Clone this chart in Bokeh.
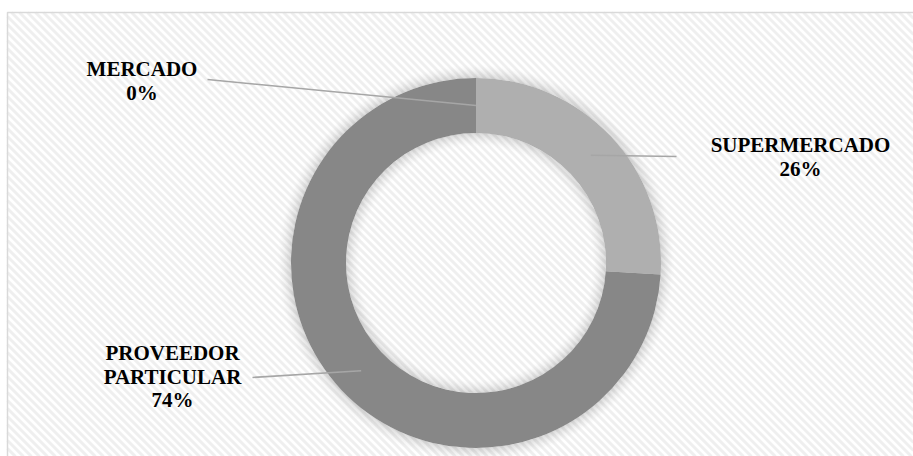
import math
from bokeh.plotting import figure
from bokeh.models import ColumnDataSource, Label
from bokeh.embed import file_html
from bokeh.resources import INLINE

# ---- data ----
categories = ["MERCADO", "SUPERMERCADO", "PROVEEDOR PARTICULAR"]
percent_values = [0, 26, 74]
slice_colors = ["#c8c8c8", "#afafaf", "#878787"]

# ---- layout constants (pixels, y measured from top) ----
W, H = 913, 456
CX, CY_TOP = 475.5, 262.5
R_OUT, R_IN = 185.0, 130.0
label_centers = [(141.5, 76), (800, 152), (172, 360)]   # x center, first baseline
leader_starts = [(207, 79), (676, 156), (252, 377)]
LINE_H = 23.5
DESCENT = 4.5
BOX_L, BOX_T = 7, 12
STRIPE_STEP = 8

def fy(y_top):
    return H - y_top

CY = fy(CY_TOP)

p = figure(width=W, height=H, x_range=(0, W), y_range=(0, H),
           x_axis_type=None, y_axis_type=None, toolbar_location=None,
           output_backend="svg", min_border=0)
p.outline_line_color = None

# chart-area background: white with light diagonal stripes and a light border
top = fy(BOX_T)
x0s, y0s, x1s, y1s = [], [], [], []
c = BOX_L
while c < W + top:
    xa, ya = c - top, top
    if xa < BOX_L:
        xa, ya = BOX_L, c - BOX_L
    xb, yb = c, 0
    if xb > W:
        xb, yb = W, c - W
    if ya > yb:
        x0s.append(xa); y0s.append(ya); x1s.append(xb); y1s.append(yb)
    c += STRIPE_STEP
p.segment(x0=x0s, y0=y0s, x1=x1s, y1=y1s, line_color="#efefef", line_width=3)
p.line(x=[BOX_L, BOX_L, W + 5], y=[-5, top, top], line_color="#d9d9d9", line_width=1.5)

# soft glow around the donut
for i in range(16):
    a = 0.14 * (1 - i / 16.0) ** 2
    p.annulus(x=[CX], y=[CY], inner_radius=R_OUT + i, outer_radius=R_OUT + i + 1,
              fill_color="black", fill_alpha=a, line_color=None)
    p.annulus(x=[CX], y=[CY], inner_radius=R_IN - i - 1, outer_radius=R_IN - i,
              fill_color="black", fill_alpha=a, line_color=None)

# slices
total = float(sum(percent_values))
starts, ends, mids = [], [], []
cum = 0.0
for v in percent_values:
    s = math.pi / 2 - cum / total * 2 * math.pi
    e = s - v / total * 2 * math.pi
    starts.append(s)
    ends.append(e)
    mids.append((s + e) / 2)
    cum += v

idx = [i for i, v in enumerate(percent_values) if v > 0]
src = ColumnDataSource(dict(
    x=[CX] * len(idx), y=[CY] * len(idx),
    start=[starts[i] for i in idx], end=[ends[i] for i in idx],
    color=[slice_colors[i] for i in idx]))
p.annular_wedge(x="x", y="y", inner_radius=R_IN, outer_radius=R_OUT,
                start_angle="start", end_angle="end", direction="clock",
                fill_color="color", line_color=None, source=src)

# leader lines
r_mid = (R_IN + R_OUT) / 2
for i, m in enumerate(mids):
    ex = CX + r_mid * math.cos(m)
    ey = CY + r_mid * math.sin(m)
    sx, sy = leader_starts[i]
    p.line(x=[sx, ex], y=[fy(sy), ey], line_color="#a6a6a6", line_width=1.6)

# labels
for i, cat in enumerate(categories):
    lines = cat.split(" ") + ["%d%%" % round(percent_values[i] / total * 100)]
    cx, b0 = label_centers[i]
    for j, ln in enumerate(lines):
        p.add_layout(Label(x=cx, y=fy(b0 + j * LINE_H + DESCENT), text=ln,
                           text_font="Liberation Serif", text_font_style="bold",
                           text_font_size="21px", text_color="black",
                           text_align="center"))

open("out.html", "w").write(file_html(p, INLINE))
